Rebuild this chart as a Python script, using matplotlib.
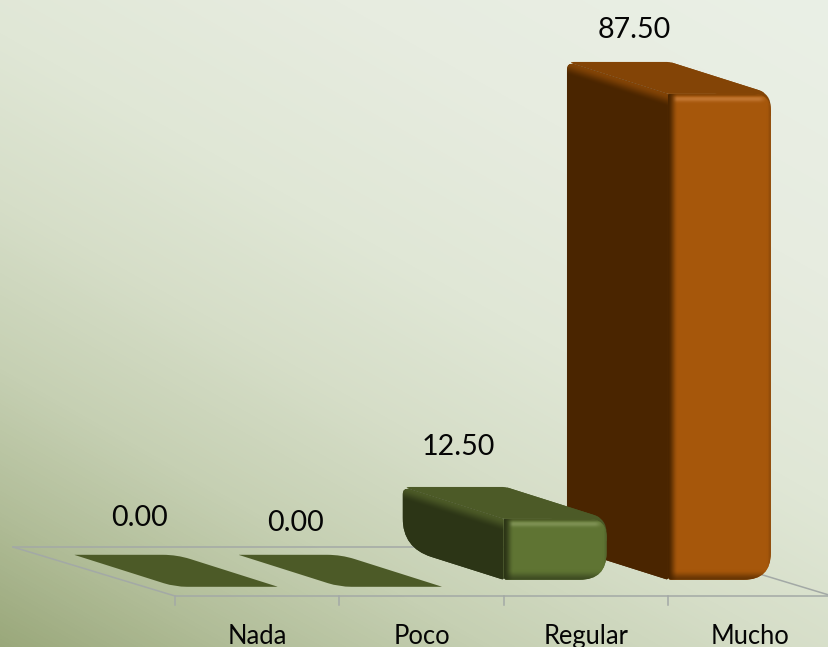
import numpy as np
import matplotlib
matplotlib.use("Agg")
import matplotlib.pyplot as plt
from matplotlib.path import Path
from matplotlib.patches import PathPatch
from matplotlib.colors import LinearSegmentedColormap, to_rgb

plt.rcParams['font.family'] = ['Lato', 'DejaVu Sans']

categories = ["Nada", "Poco", "Regular", "Mucho"]
values = [0.0, 0.0, 12.5, 87.5]
value_labels = ["0.00", "0.00", "12.50", "87.50"]

W, H = 829, 647
SX, SY = 164.3, 5.667           # px per category, px per value unit
X0_PX, Y0_PX = 226.5, 589.8     # px of category 0, value 0
BAR_HALF = 0.313
DEPTH = (-101 / SX, 32 / SY)    # bar depth in data units
FLOOR_DEPTH = (-162 / SX, 49 / SY)
FLOOR_Y = (Y0_PX - 596) / SY
FLOOR_X = (175 - X0_PX) / SX

fig = plt.figure(figsize=(W / 100, H / 100), dpi=100)
ax = fig.add_axes([0, 0, 1, 1])
xlim = ((0 - X0_PX) / SX, (W - X0_PX) / SX)
ylim = ((Y0_PX - H) / SY, Y0_PX / SY)
ax.set_xlim(*xlim)
ax.set_ylim(*ylim)
ax.set_autoscale_on(False)
ax.axis("off")


def px(p):
    return np.array([p[0] * SX, p[1] * SY])


def rounded(points, radii):
    """Closed path through data points with corners rounded by a px radius."""
    verts, codes = [], []
    n = len(points)
    for i in range(n):
        c = px(points[i]); a = px(points[i - 1]); b = px(points[(i + 1) % n])
        r = radii[i]
        ua = (a - c) / max(np.linalg.norm(a - c), 1e-6)
        ub = (b - c) / max(np.linalg.norm(b - c), 1e-6)
        s, e = c + ua * r, c + ub * r
        verts += [s, c, e]
        codes += [Path.LINETO, Path.CURVE3, Path.CURVE3]
    codes[0] = Path.MOVETO
    verts.append(verts[0]); codes.append(Path.CLOSEPOLY)
    v = np.array(verts) / [SX, SY]
    return Path(v, codes)


def mix(a, b, t):
    return a + (b - a) * np.clip(t, 0, 1)[..., None]


def ramp(t):
    t = np.clip(t, 0, 1)
    return t * t * (3 - 2 * t)


# background
yy, xx = np.mgrid[0:H, 0:W]
t = 0.42 * xx / W + 0.58 * (H - yy) / H
bg = LinearSegmentedColormap.from_list(
    "bg", [(0, "#9AA87B"), (0.12, "#B1BD98"), (0.25, "#C6D0B3"), (0.4, "#D6DEC8"),
           (0.55, "#E0E7D6"), (0.75, "#E7ECE0"), (1, "#EAF0E6")])
ax.imshow(bg(t), extent=(*xlim, *ylim), origin="upper", aspect="auto", zorder=0)

# floor and ticks
grid = "#A3A9A6"
fx = [FLOOR_X + FLOOR_DEPTH[0], FLOOR_X, FLOOR_X + len(categories)]
fy = [FLOOR_Y + FLOOR_DEPTH[1], FLOOR_Y, FLOOR_Y]
ax.plot(fx, fy, color=grid, lw=1.1, zorder=1, solid_joinstyle="miter")
ax.plot([FLOOR_X + FLOOR_DEPTH[0], FLOOR_X + FLOOR_DEPTH[0] + len(categories)], [FLOOR_Y + FLOOR_DEPTH[1]] * 2,
        color=grid, lw=1.1, zorder=1)
ax.plot([FLOOR_X + len(categories), FLOOR_X + len(categories) + FLOOR_DEPTH[0]],
        [FLOOR_Y, FLOOR_Y + FLOOR_DEPTH[1]], color=grid, lw=1.1, zorder=1)
for k in range(len(categories) + 1):
    ax.plot([FLOOR_X + k] * 2, [FLOOR_Y, FLOOR_Y - 9 / SY], color=grid, lw=1.1, zorder=1)

styles = {
    "green": dict(front="#5F7433", side="#2C3516", top="#4C5A27", hi="#8A9C60", edge="#3A4620"),
    "orange": dict(front="#A6570B", side="#4A2500", top="#834406", hi="#CC8240", edge="#5E3003"),
}
bar_styles = ["green", "green", "green", "orange"]

LIFT = 10 / SY
FLAT_LIFT = 3 / SY


def shaded_face(patch, x0, x1, v0, v1, st, z):
    nx, ny = int((x1 - x0) * SX) + 1, int((v1 - v0) * SY) + 1
    Y, X = np.mgrid[0:ny, 0:nx] + 0.5
    front = np.array(to_rgb(st["front"])); edge = np.array(to_rgb(st["edge"]))
    hi = np.array(to_rgb(st["hi"])); top = np.array(to_rgb(st["top"])); side = np.array(to_rgb(st["side"]))
    img = np.ones((ny, nx, 3)) * front
    dt, db, dl, dr = Y, ny - Y, X, nx - X
    img = mix(img, hi, 0.7 * np.exp(-((dt - 5) / 2.6) ** 2) * ramp((dl - 3) / 6) * ramp((dr - 3) / 10))
    img = mix(img, top, ramp(1 - dt / 3.5))
    img = mix(img, edge, 0.9 * ramp(1 - db / 10))
    img = mix(img, edge, 0.35 * ramp(1 - dr / 4))
    img = mix(img, side, ramp(1 - dl / 10))
    im = ax.imshow(img, extent=(x0, x1, v0, v1), origin="upper", aspect="auto", zorder=z,
                   interpolation="bilinear")
    im.set_clip_path(patch)


def shaded_side(patch, x0, x1, v0, v1, st, z):
    # darker side, blending to the top colour along its sloped upper edge
    nx, ny = int((x1 - x0) * SX) + 1, int((v1 - v0) * SY) + 1
    Y, X = np.mgrid[0:ny, 0:nx] + 0.5
    side = np.array(to_rgb(st["side"])); top = np.array(to_rgb(st["top"]))
    slope = 32 / 101
    d = Y - X * slope
    img = mix(np.ones((ny, nx, 3)) * side, top, ramp(1 - d / 13))
    im = ax.imshow(img, extent=(x0, x1, v0, v1), origin="upper", aspect="auto", zorder=z,
                   interpolation="bilinear")
    im.set_clip_path(patch)


for i in range(len(categories) - 1, -1, -1):
    v = values[i]
    st = styles[bar_styles[i]]
    xl, xr = i - BAR_HALF, i + BAR_HALF
    dx, dv = DEPTH
    z = 10 + (len(categories) - i) * 3
    if v == 0:
        pts = [(xl, FLAT_LIFT), (xr, FLAT_LIFT), (xr + dx, FLAT_LIFT + dv), (xl + dx, FLAT_LIFT + dv)]
        ax.add_patch(PathPatch(rounded(pts, [12, 1, 14, 1]), fc=st["top"], ec="none", zorder=z))
        continue
    b = LIFT
    # side face
    side_pts = [(xl + dx, v + dv), (xl, v), (xl, b), (xl + dx, b + dv)]
    p = PathPatch(rounded(side_pts, [8, 1, 2, 30]), fc=st["side"], ec="none", zorder=z)
    ax.add_patch(p)
    shaded_side(p, xl + dx, xl, b, v + dv, st, z + 0.1)
    # top face, with a backing that gives the rounded outer corner
    top_pts = [(xl + dx, v + dv), (xr + dx, v + dv), (xr, v), (xl, v)]
    ax.add_patch(PathPatch(rounded(top_pts, [8, 3, 14, 1]), fc=st["top"], ec="none", zorder=z - 0.2))
    corner = 22 / SY
    back_pts = [(xr + dx, v + dv), (xr, v), (xr, v - corner), (xr - 22 / SX, v - corner)]
    ax.add_patch(PathPatch(rounded(back_pts, [3, 14, 0.1, 0.1]), fc=st["top"], ec="none", zorder=z - 0.1))
    # front face
    front_pts = [(xl, v), (xr, v), (xr, b), (xl, b)]
    p = PathPatch(rounded(front_pts, [1, 18, 27, 3]), fc=st["front"], ec="none", zorder=z + 0.3)
    ax.add_patch(p)
    shaded_face(p, xl, xr, b, v, st, z + 0.4)

# text
centres = [(139, 518), (296, 523), (458, 447), (634, 30)]
for i, (lab, cat) in enumerate(zip(value_labels, categories)):
    top_x = i + DEPTH[0] / 2
    top_v = values[i] + DEPTH[1]
    xpx, ypx = centres[i]
    ax.annotate(lab, xy=(top_x, top_v),
                xytext=(xpx - (X0_PX + top_x * SX), (Y0_PX - top_v * SY) - ypx),
                textcoords="offset pixels", ha="center", va="center", fontsize=20.6, color="#050505",
                zorder=40)
    ax.text(FLOOR_X + i + 0.5, FLOOR_Y - 48 / SY, cat, ha="center", va="baseline", fontsize=18.4,
            color="#050505", zorder=40)

fig.savefig("out.png", dpi=100)
